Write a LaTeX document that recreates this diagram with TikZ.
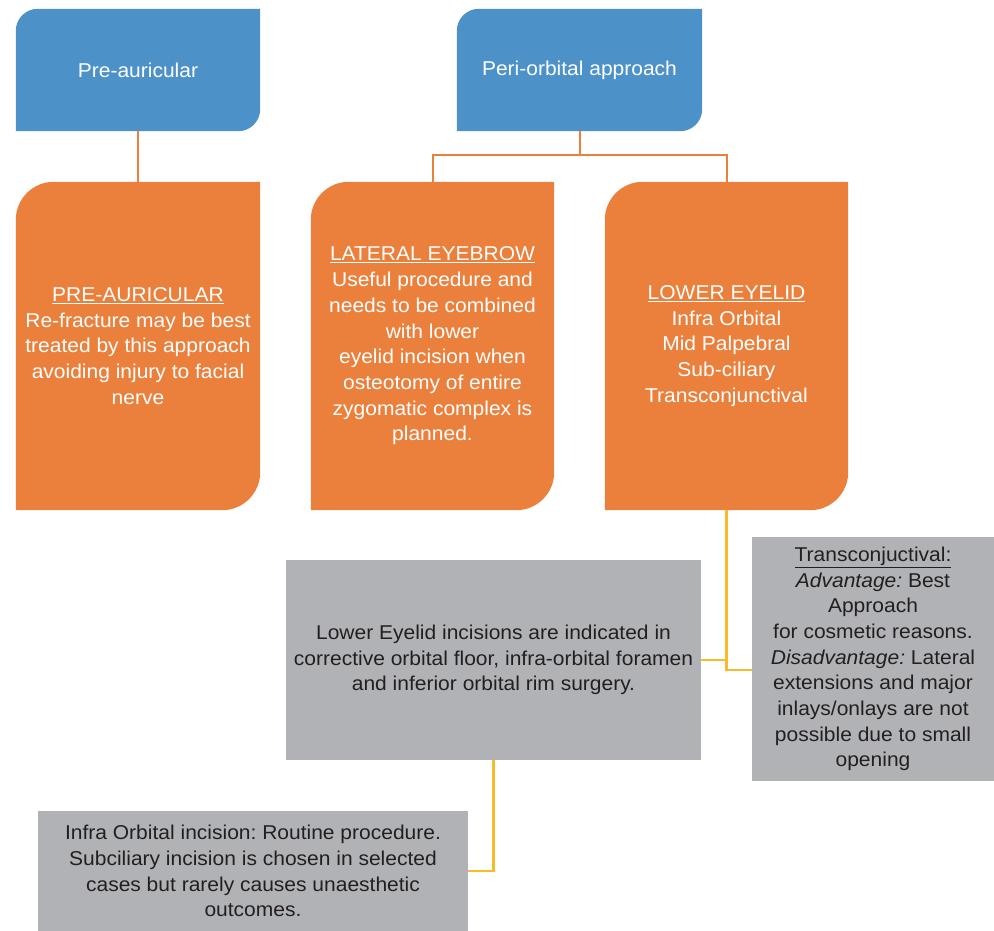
\documentclass[tikz,border=0pt]{standalone}
\usepackage{fontspec}
\setmainfont{Liberation Sans}[FakeStretch=1.05]
\usetikzlibrary{backgrounds,calc}
\definecolor{bluebox}{HTML}{4C91C8}
\definecolor{orangebox}{HTML}{EB7F3C}
\definecolor{graybox}{HTML}{B1B2B6}
\definecolor{yellowline}{HTML}{FBBA2C}
\definecolor{darktext}{HTML}{231F20}
\newcommand\cornerfill[3]{%
  \fill[#3] (#1.south west) -- ([yshift=-#2pt]#1.north west)
    arc[start angle=180,end angle=90,radius=#2pt] -- (#1.north east)
    -- ([yshift=#2pt]#1.south east)
    arc[start angle=0,end angle=-90,radius=#2pt] -- cycle;}
\tikzset{
  txt/.style={inner sep=0pt, align=center, font=\fontsize{20}{25.7}\selectfont\frenchspacing},
  bluenode/.style={txt, text=white, minimum width=244pt, minimum height=122pt},
  orangenode/.style={txt, text=white, minimum width=244pt, minimum height=328pt},
  graynode/.style={txt, text=darktext, fill=graybox},
  oline/.style={draw=orangebox, line width=2pt},
  yline/.style={draw=yellowline, line width=2.6pt, line join=miter}
}
\begin{document}
\frenchspacing
\begin{tikzpicture}[x=1pt,y=1pt]
\useasboundingbox (0,0) rectangle (994,-931);
% top blue boxes
\node[bluenode] (pa) at (138,-70) {Pre-auricular};
\node[bluenode, minimum width=245pt] (po) at (579.5,-70) {Peri-orbital approach};
% orange boxes
\node[orangenode] (pab) at (138,-346) {\underline{PRE-AURICULAR}\\Re-fracture may be best\\treated by this approach\\avoiding injury to facial\\nerve};
\node[orangenode, minimum width=243pt] (lat) at (432.5,-346) {\underline{LATERAL EYEBROW}\\Useful procedure and\\needs to be combined\\with lower\\eyelid incision when\\osteotomy of entire\\zygomatic complex is\\planned.};
\node[orangenode, minimum width=243pt] (low) at (726.5,-346) {\underline{LOWER EYELID}\\Infra Orbital\\Mid Palpebral\\Sub-ciliary\\Transconjunctival};
% gray boxes
\node[graynode, minimum width=415pt, minimum height=200pt] (lei) at (493.5,-660) {Lower Eyelid incisions are indicated in\\corrective orbital floor, infra-orbital foramen\\and inferior orbital rim surgery.};
\node[graynode, minimum width=242pt, minimum height=244pt] (tr) at (873,-659) {\underline{Transconjuctival:}\\\textit{Advantage:} Best\\Approach\\for cosmetic reasons.\\\textit{Disadvantage:} Lateral\\extensions and major\\inlays/onlays are not\\possible due to small\\opening};
\node[graynode, minimum width=430pt, minimum height=120pt] (io) at (253,-871) {Infra Orbital incision: Routine procedure.\\Subciliary incision is chosen in selected\\cases but rarely causes unaesthetic\\outcomes.};
\begin{pgfonlayer}{background}
\cornerfill{pa}{22}{bluebox}
\cornerfill{po}{22}{bluebox}
\cornerfill{pab}{38}{orangebox}
\cornerfill{lat}{38}{orangebox}
\cornerfill{low}{38}{orangebox}
% connectors
\draw[oline] (pa.south) -- (pab.north);
\coordinate (split) at ($(po.south)+(0,-24)$);
\draw[oline] (po.south) -- (split);
\draw[oline] (split) -| (lat.north);
\draw[oline] (split) -| (low.north);
\draw[yline] (low.south) |- ([yshift=-11pt]tr.west);
\draw[yline] (lei.east) -- (lei.east -| low.south);
\draw[yline] (lei.south) |- (io.east);
\end{pgfonlayer}
\end{tikzpicture}
\end{document}
